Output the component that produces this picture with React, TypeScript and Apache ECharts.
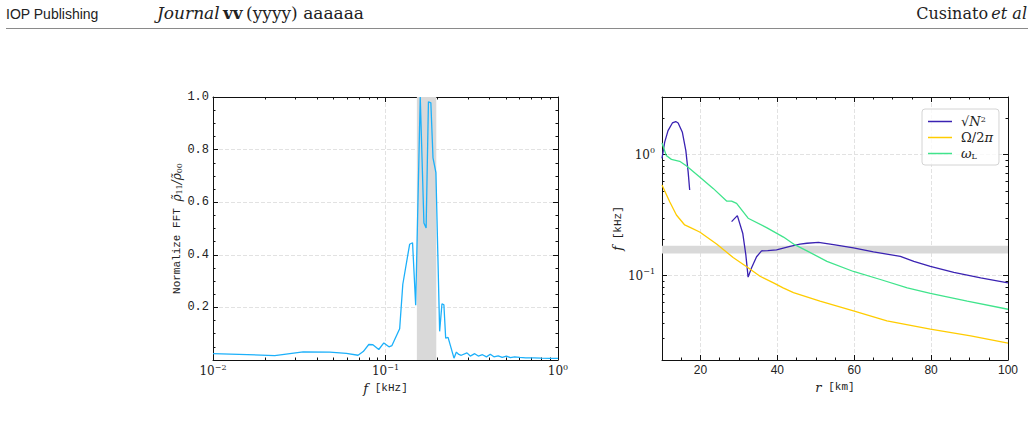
import { useEffect, useRef } from 'react';
import * as echarts from 'echarts';

const SERIF = '"DejaVu Serif", "Liberation Serif", serif';
const MONO = '"Liberation Mono", "DejaVu Sans Mono", monospace';
const SANS = '"Liberation Sans", "DejaVu Sans", sans-serif';

// Left panel: normalised FFT amplitude of rho_11 against frequency (kHz)
const fftFreq = [
  0.01, 0.0228, 0.0333, 0.0475, 0.0593, 0.0693, 0.0743, 0.08, 0.0845, 0.0914, 0.0978,
  0.1047, 0.109, 0.1208, 0.126, 0.138, 0.1435, 0.1496, 0.159, 0.167, 0.172, 0.1774,
  0.1832, 0.1885, 0.196, 0.206, 0.2125, 0.218, 0.2233, 0.2305, 0.2495, 0.2576, 0.266,
  0.275, 0.2967, 0.31, 0.329, 0.345, 0.365, 0.385, 0.405, 0.425, 0.45, 0.475, 0.502,
  0.53, 0.56, 0.6, 0.65, 0.72, 0.8, 0.9, 1.0,
];
const fftAmp = [
  0.024, 0.017, 0.031, 0.03, 0.025, 0.018, 0.032, 0.059, 0.058, 0.04, 0.065,
  0.05, 0.055, 0.119, 0.288, 0.44, 0.446, 0.208, 1.0, 0.521, 0.502, 0.982,
  0.978, 0.769, 0.712, 0.109, 0.214, 0.21, 0.083, 0.086, 0.007, 0.03, 0.021,
  0.018, 0.027, 0.015, 0.024, 0.015, 0.02, 0.012, 0.022, 0.012, 0.016, 0.01, 0.015,
  0.009, 0.012, 0.01, 0.008, 0.008, 0.007, 0.006, 0.006,
];
const fftBand = [0.152, 0.197];

// Right panel: characteristic frequencies (kHz) against radius (km)
const bvRadius = [
  10, 10.7, 11.57, 12.7, 13.57, 14.2, 15.3, 16.2, 16.8, 17.2, 22, 28.1, 29.6, 31.0, 31.8,
  32.4, 33.3, 34.6, 35.9, 37.5, 39.8, 43.3, 45.9, 47.7, 50.7, 54.6, 59.8, 65.0, 72.0,
  75.5, 79.8, 85.9, 92.9, 100,
];
const bvFreq = [
  0.93, 1.27, 1.58, 1.83, 1.88, 1.83, 1.53, 1.08, 0.72, 0.51, null, 0.279, 0.313, 0.224, 0.149,
  0.097, 0.116, 0.143, 0.16, 0.161, 0.163, 0.174, 0.182, 0.185, 0.188, 0.18, 0.169, 0.157, 0.144,
  0.131, 0.119, 0.106, 0.0957, 0.087,
];
const rotRadius = [10, 12.0, 13.75, 15.9, 17.7, 19.8, 24.2, 28.5, 32.4, 35.5, 39.0, 41.5, 44.2, 51.1, 59.8, 68.5, 79.8, 90.3, 100];
const rotFreq = [0.56, 0.408, 0.317, 0.262, 0.247, 0.229, 0.182, 0.141, 0.116, 0.0987, 0.087, 0.079, 0.0721, 0.0615, 0.0509, 0.0422, 0.036, 0.0317, 0.0276];
const lambRadius = [10, 11.1, 12.45, 14.6, 16.4, 19.8, 23.3, 26.8, 28.1, 29.4, 32.4, 37.2, 41.6, 44.5, 47.7, 52.9, 59.8, 66.8, 73.8, 79.8, 89.4, 100];
const lambFreq = [1.25, 0.986, 0.914, 0.881, 0.806, 0.654, 0.526, 0.413, 0.413, 0.395, 0.298, 0.249, 0.208, 0.18, 0.16, 0.131, 0.108, 0.0927, 0.0792, 0.0711, 0.0615, 0.0526];
const freqBand = [0.152, 0.176];

// Tick positions
const fftMajor = [0.01, 0.1, 1];
const fftMinor = [0.02, 0.03, 0.04, 0.05, 0.06, 0.07, 0.08, 0.09, 0.2, 0.3, 0.4, 0.5, 0.6, 0.7, 0.8, 0.9];
const radiusMajor = [20, 40, 60, 80, 100];
const radiusMinor = [15, 25, 30, 35, 45, 50, 55, 65, 70, 75, 85, 90, 95];
const freqMajor = [0.1, 1];
const freqMinor = [0.02, 0.03, 0.04, 0.05, 0.06, 0.07, 0.08, 0.09, 0.2, 0.3, 0.4, 0.5, 0.6, 0.7, 0.8, 0.9, 2, 3];

const seriesNames = ['√N²', 'Ω/2π', 'ωL'];
const legendRich: Record<string, string> = {
  '√N²': '{r|√}{i|N}{p|2}',
  'Ω/2π': '{r|Ω/2}{i|π}',
  'ωL': '{i|ω}{b|L}',
};

const BLACK = '#111';
const GRID_LINE = { show: true, lineStyle: { type: 'dashed' as const, color: '#e2e2e2', width: 1 } };

const powRich = {
  b: { fontFamily: SERIF, fontSize: 12, color: '#222', lineHeight: 16 },
  s: { fontFamily: SERIF, fontSize: 8, color: '#222', verticalAlign: 'top' as const, lineHeight: 9 },
};
const powLabel = (v: number) => {
  const e = Math.round(Math.log10(v));
  return `{b|10}{s|${e < 0 ? '−' + -e : e}}`;
};

const nameRich = {
  i: { fontFamily: SERIF, fontStyle: 'italic' as const, fontSize: 13, color: '#222' },
  m: { fontFamily: MONO, fontSize: 11, color: '#222' },
  g: { fontFamily: SERIF, fontStyle: 'italic' as const, fontSize: 12, color: '#222' },
  sub: { fontFamily: SERIF, fontSize: 8, color: '#222', verticalAlign: 'bottom' as const },
};

function tickAxis(base: any, values: number[], len: number, withLine: boolean) {
  return {
    ...base,
    axisLine: { show: withLine, onZero: false, lineStyle: { color: BLACK, width: 1 } },
    axisTick: { show: true, inside: true, length: len, customValues: values, lineStyle: { color: BLACK, width: 1 } },
    axisLabel: { show: false },
    splitLine: { show: false },
  };
}

export default function App() {
  const ref = useRef<HTMLDivElement>(null);

  useEffect(() => {
    if (!ref.current) return;
    const chart = echarts.init(ref.current, undefined, { renderer: 'svg' });

    const fftX = { type: 'log', logBase: 10, gridIndex: 0, min: 0.01, max: 1 };
    const fftY = { type: 'value', gridIndex: 0, min: 0, max: 1 };
    const radX = { type: 'value', gridIndex: 1, min: 10, max: 100 };
    const frqY = { type: 'log', logBase: 10, gridIndex: 1, min: 0.02, max: 3 };

    const option: any = {
      animation: false,
      backgroundColor: '#fff',
      grid: [
        { left: 213, top: 97, width: 345, height: 263 },
        { left: 662, top: 97, width: 346, height: 263 },
      ],
      xAxis: [
        {
          ...fftX,
          position: 'bottom',
          name: '{i|f}  {m|[kHz]}',
          nameLocation: 'middle',
          nameGap: 20,
          nameTextStyle: { rich: nameRich },
          axisLine: { show: true, onZero: false, lineStyle: { color: BLACK, width: 1 } },
          axisTick: { show: true, inside: true, length: 5, customValues: fftMajor, lineStyle: { color: BLACK } },
          axisLabel: { customValues: fftMajor, margin: 3, formatter: powLabel, rich: powRich },
          splitLine: GRID_LINE,
        },
        tickAxis({ ...fftX, position: 'bottom' }, fftMinor, 2.5, false),
        tickAxis({ ...fftX, position: 'top' }, fftMajor, 5, true),
        tickAxis({ ...fftX, position: 'top' }, fftMinor, 2.5, false),
        {
          ...radX,
          position: 'bottom',
          name: '{i|r}  {m|[km]}',
          nameLocation: 'middle',
          nameGap: 20,
          nameTextStyle: { rich: nameRich },
          axisLine: { show: true, onZero: false, lineStyle: { color: BLACK, width: 1 } },
          axisTick: { show: true, inside: true, length: 5, customValues: radiusMajor, lineStyle: { color: BLACK } },
          axisLabel: { customValues: radiusMajor, margin: 4, fontFamily: SANS, fontSize: 12, color: '#222' },
          splitLine: GRID_LINE,
        },
        tickAxis({ ...radX, position: 'bottom' }, radiusMinor, 2.5, false),
        tickAxis({ ...radX, position: 'top' }, radiusMajor, 5, true),
        tickAxis({ ...radX, position: 'top' }, radiusMinor, 2.5, false),
      ],
      yAxis: [
        {
          ...fftY,
          position: 'left',
          interval: 0.2,
          name: '{m|Normalize FFT }{g|ρ̃}{sub|11}{g|/ρ̃}{sub|00}',
          nameLocation: 'middle',
          nameGap: 30,
          nameTextStyle: { rich: nameRich },
          axisLine: { show: true, onZero: false, lineStyle: { color: BLACK, width: 1 } },
          axisTick: { show: true, inside: true, length: 5, lineStyle: { color: BLACK } },
          minorTick: { show: true, splitNumber: 4, length: 2.5, lineStyle: { color: BLACK } },
          axisLabel: {
            margin: 4,
            fontFamily: MONO,
            fontSize: 12,
            color: '#222',
            formatter: (v: number) => (v === 0 ? '' : v.toFixed(1)),
          },
          splitLine: GRID_LINE,
        },
        {
          ...fftY,
          position: 'right',
          interval: 0.2,
          axisLine: { show: true, onZero: false, lineStyle: { color: BLACK, width: 1 } },
          axisTick: { show: true, inside: true, length: 5, lineStyle: { color: BLACK } },
          minorTick: { show: true, splitNumber: 4, length: 2.5, lineStyle: { color: BLACK } },
          axisLabel: { show: false },
          splitLine: { show: false },
        },
        {
          ...frqY,
          position: 'left',
          name: '{i|f}  {m|[kHz]}',
          nameLocation: 'middle',
          nameGap: 31,
          nameTextStyle: { rich: nameRich },
          axisLine: { show: true, onZero: false, lineStyle: { color: BLACK, width: 1 } },
          axisTick: { show: true, inside: true, length: 5, customValues: freqMajor, lineStyle: { color: BLACK } },
          axisLabel: { customValues: freqMajor, margin: 7, formatter: powLabel, rich: powRich },
          splitLine: GRID_LINE,
        },
        tickAxis({ ...frqY, position: 'left' }, freqMinor, 2.5, false),
        tickAxis({ ...frqY, position: 'right' }, freqMajor, 5, true),
        tickAxis({ ...frqY, position: 'right' }, freqMinor, 2.5, false),
      ],
      legend: {
        data: seriesNames,
        orient: 'vertical',
        left: 922,
        top: 109,
        padding: [6, 6, 5, 6],
        itemGap: 3,
        icon: 'rect',
        itemWidth: 24,
        itemHeight: 1.5,
        backgroundColor: 'rgba(255,255,255,0.8)',
        borderColor: '#d4d4d4',
        borderWidth: 1,
        borderRadius: 3,
        formatter: (name: string) => legendRich[name] ?? name,
        textStyle: {
          padding: [0, 0, 0, 4],
          rich: {
            r: { fontFamily: SERIF, fontSize: 13, color: '#222' },
            i: { fontFamily: SERIF, fontStyle: 'italic', fontSize: 13, color: '#222' },
            p: { fontFamily: SERIF, fontSize: 8, color: '#222', verticalAlign: 'top' },
            b: { fontFamily: SERIF, fontSize: 8, color: '#222', verticalAlign: 'bottom' },
          },
        },
      },
      series: [
        {
          type: 'line',
          xAxisIndex: 0,
          yAxisIndex: 0,
          data: [],
          z: 1,
          silent: true,
          markArea: {
            silent: true,
            itemStyle: { color: '#d9d9d9' },
            data: [[{ xAxis: fftBand[0] }, { xAxis: fftBand[1] }]],
          },
        },
        {
          type: 'line',
          xAxisIndex: 0,
          yAxisIndex: 0,
          symbol: 'none',
          z: 3,
          lineStyle: { color: '#1cb0fa', width: 1.3 },
          itemStyle: { color: '#1cb0fa' },
          data: fftFreq.map((f, i) => [f, fftAmp[i]]),
        },
        {
          type: 'line',
          xAxisIndex: 4,
          yAxisIndex: 2,
          data: [],
          z: 1,
          silent: true,
          markArea: {
            silent: true,
            itemStyle: { color: '#d9d9d9' },
            data: [[{ yAxis: freqBand[0] }, { yAxis: freqBand[1] }]],
          },
        },
        {
          name: seriesNames[0],
          type: 'line',
          xAxisIndex: 4,
          yAxisIndex: 2,
          symbol: 'none',
          z: 3,
          connectNulls: false,
          lineStyle: { color: '#3a22b2', width: 1.3 },
          itemStyle: { color: '#3a22b2' },
          data: bvRadius.map((r, i) => [r, bvFreq[i]]),
        },
        {
          name: seriesNames[1],
          type: 'line',
          xAxisIndex: 4,
          yAxisIndex: 2,
          symbol: 'none',
          z: 3,
          lineStyle: { color: '#ffcc00', width: 1.3 },
          itemStyle: { color: '#ffcc00' },
          data: rotRadius.map((r, i) => [r, rotFreq[i]]),
        },
        {
          name: seriesNames[2],
          type: 'line',
          xAxisIndex: 4,
          yAxisIndex: 2,
          symbol: 'none',
          z: 3,
          lineStyle: { color: '#40e48c', width: 1.3 },
          itemStyle: { color: '#40e48c' },
          data: lambRadius.map((r, i) => [r, lambFreq[i]]),
        },
      ],
      graphic: [
        {
          type: 'text',
          left: 6,
          top: 7,
          style: { text: 'IOP Publishing', font: `14px ${SANS}`, fill: '#222' },
        },
        {
          type: 'text',
          left: 157,
          top: 4,
          style: {
            text: '{i|Journal} {b|vv} {r|(yyyy) aaaaaa}',
            rich: {
              i: { fontFamily: SERIF, fontStyle: 'italic', fontSize: 17, fill: '#222' },
              b: { fontFamily: SERIF, fontWeight: 'bold', fontSize: 17, fill: '#222' },
              r: { fontFamily: SERIF, fontSize: 17, fill: '#222' },
            },
          },
        },
        {
          type: 'text',
          right: 7,
          top: 5,
          style: {
            text: '{r|Cusinato} {i|et al}',
            rich: {
              r: { fontFamily: SERIF, fontSize: 16, fill: '#222' },
              i: { fontFamily: SERIF, fontStyle: 'italic', fontSize: 16, fill: '#222' },
            },
          },
        },
        {
          type: 'line',
          shape: { x1: 6, y1: 28.5, x2: 1028, y2: 28.5 },
          style: { stroke: '#8a8a8a', lineWidth: 1 },
        },
      ],
    };

    chart.setOption(option);
    return () => chart.dispose();
  }, []);

  return (
    <div
      ref={ref}
      style={{ position: 'fixed', left: 0, top: 0, width: 1034, height: 427, background: '#fff' }}
    />
  );
}
